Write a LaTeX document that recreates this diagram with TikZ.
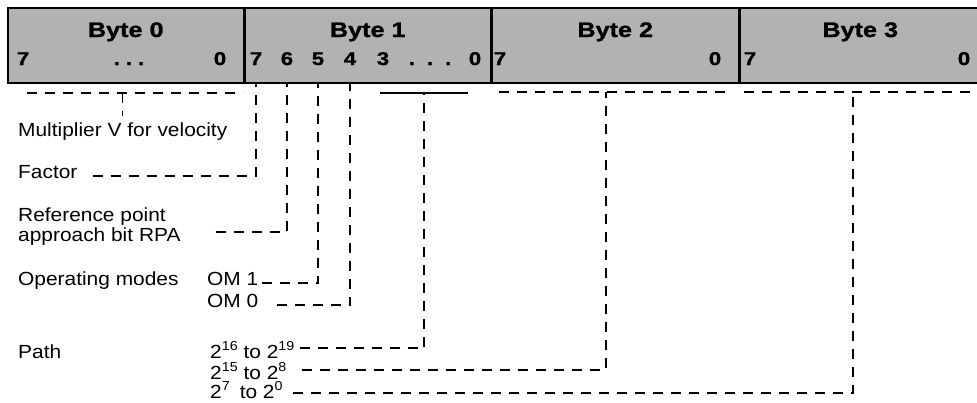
\documentclass[tikz,border=0pt]{standalone}
\usepackage{fontspec}
\setmainfont{Liberation Sans}[FakeStretch=1.1]
\newfontfamily\hdrfont{Liberation Sans}[FakeStretch=1.2, FakeBold=1.2]
\newcommand\sups[1]{\raisebox{0.38em}{\fontsize{13}{13}\selectfont #1}}
\usetikzlibrary{positioning,calc}

\begin{document}
\begin{tikzpicture}[x=1pt, y=-1pt,
  bytebox/.style={draw, line width=1.5pt, fill=black!30, minimum height=75pt,
    anchor=north west, inner sep=0pt},
  bytetitle/.style={font=\hdrfont\bfseries\fontsize{21}{24}\selectfont,
    anchor=base, inner sep=0pt},
  bitnum/.style={font=\hdrfont\bfseries\fontsize{18.5}{20}\selectfont,
    anchor=base, inner sep=0pt},
  lbl/.style={font=\fontsize{19}{20}\selectfont, anchor=base west,
    inner sep=0pt, align=left},
  dline/.style={line width=1.5pt, dash pattern=on 10pt off 8pt},
  sline/.style={line width=1.5pt}
]
  \useasboundingbox (0,0) rectangle (977,402);

  % Byte boxes
  \node[bytebox, minimum width=236pt] (b0) at (7,7) {};
  \node[bytebox, minimum width=245pt] (b1) at (b0.north east) {};
  \node[bytebox, minimum width=247pt] (b2) at (b1.north east) {};
  \node[bytebox, minimum width=240pt] (b3) at (b2.north east) {};

  \node[bytetitle] (t0) at (b0.north |- 0,37) {Byte 0};
  \node[bytetitle] (t1) at (b1.north |- 0,37) {Byte 1};
  \node[bytetitle] (t2) at (b2.north |- 0,37) {Byte 2};
  \node[bytetitle] (t3) at (b3.north |- 0,37) {Byte 3};

  % Bit numbers
  \node[bitnum] (b0hi) at (23,65) {7};
  \node[bitnum] (b0dots) at (129,65) {.\hspace{6pt}.\hspace{6pt}.};
  \node[bitnum] (b0lo) at (220,65) {0};
  \node[bitnum] (bit7) at (256,65) {7};
  \node[bitnum] (bit6) at (287,65) {6};
  \node[bitnum] (bit5) at (318,65) {5};
  \node[bitnum] (bit4) at (350,65) {4};
  \node[bitnum] (bit3) at (383,65) {3};
  \node[bitnum] (b1dots) at (430,65) {.\hspace{12pt}.\hspace{12pt}.};
  \node[bitnum] (bit0) at (475,65) {0};
  \node[bitnum] (b2hi) at (500,65) {7};
  \node[bitnum] (b2lo) at (715,65) {0};
  \node[bitnum] (b3hi) at (750,65) {7};
  \node[bitnum] (b3lo) at (964,65) {0};

  % Labels
  \node[lbl] (mult) at (18,136) {Multiplier V for velocity};
  \node[lbl] (factor) at (18,178) {Factor};
  \node[lbl, anchor=west] (rpa) at (18,227) {Reference point\\approach bit RPA};
  \node[lbl] (opmodes) at (18,285) {Operating modes};
  \node[lbl] (om1) at (207,285) {OM 1};
  \node[lbl] (om0) at (207,307) {OM 0};
  \node[lbl] (path) at (18,358) {Path};
  \node[lbl] (p16) at (210,358) {2\sups{16} to 2\sups{19}};
  \node[lbl] (p15) at (210,379) {2\sups{15} to 2\sups{8}};
  \node[lbl] (p7) at (210,398) {2\sups{7}\hspace{10pt}to 2\sups{0}};

  % Brackets under the bytes
  \coordinate (br0l) at (27,93);
  \coordinate (br0r) at (243,93);
  \coordinate (br1l) at (380,93);
  \coordinate (br1r) at (468,93);
  \coordinate (br1) at (424,93);
  \coordinate (br2l) at (499,92);
  \coordinate (br2r) at (725,92);
  \coordinate (br2) at (606,92);
  \coordinate (br3l) at (744,92);
  \coordinate (br3r) at (977,92);
  \coordinate (br3) at (853,92);

  \draw[dline] (br0l) -- (br0r);
  \draw[sline] (br1l) -- (br1r);
  \draw[dline] (br2l) -- (br2r);
  \draw[dline] (br3l) -- (br3r);

  % Connectors
  \draw[dline] (mult.north |- br0l) -- ([yshift=6pt]mult.north);
  \draw[dline] ([shift={(15,-2)}]factor.base east) -| (bit7 |- b1.south);
  \draw[dline] ([shift={(35,5)}]rpa.east) -| (bit6 |- b1.south);
  \draw[dline] ([shift={(3,-2)}]om1.base east) -| (bit5 |- b1.south);
  \draw[dline] ([shift={(18,-2)}]om0.base east) -| (bit4 |- b1.south);
  \draw[dline] ([shift={(5,-10)}]p16.base east) -| (br1);
  \draw[dline] ([shift={(15,-9)}]p15.base east) -| (br2);
  \draw[dline] ([shift={(10,-5)}]p7.base east) -| (br3);
\end{tikzpicture}
\end{document}
